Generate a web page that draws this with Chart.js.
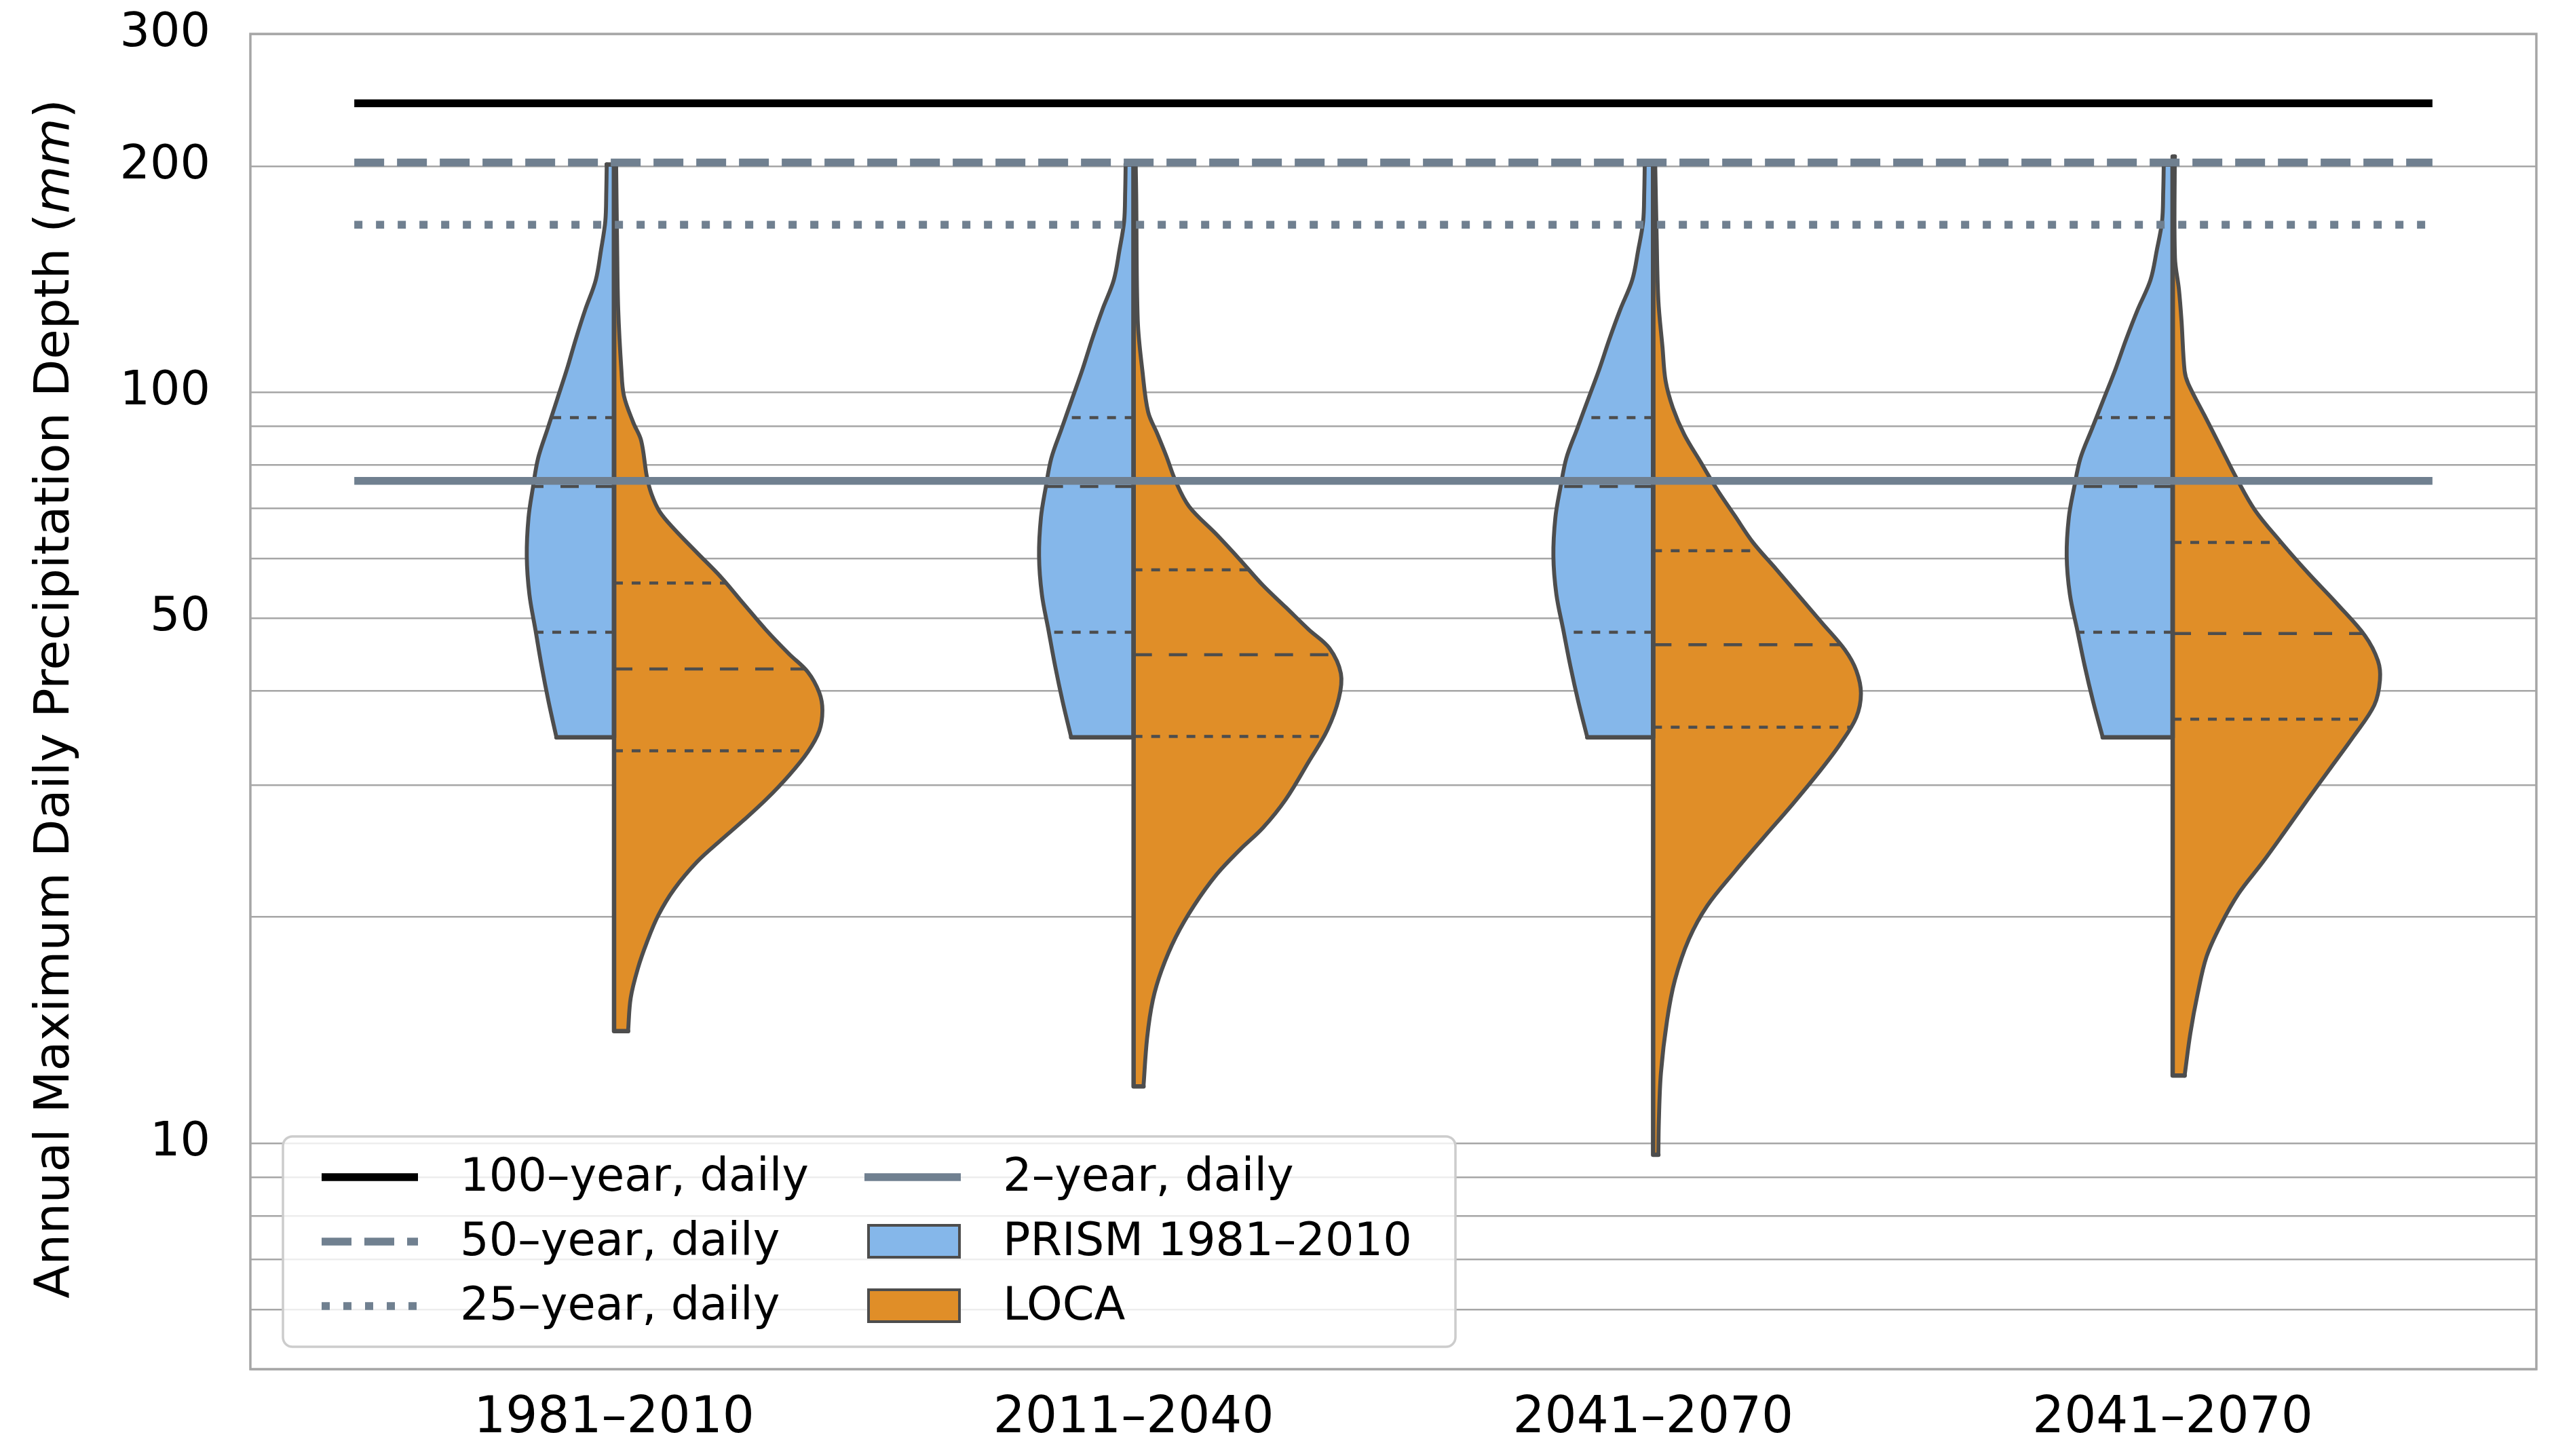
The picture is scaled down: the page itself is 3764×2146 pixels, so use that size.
<!DOCTYPE html>
<html>
<head>
<meta charset="utf-8">
<script src="https://cdn.jsdelivr.net/npm/chart.js@4/dist/chart.umd.min.js"></script>
<style>
html,body{margin:0;padding:0;background:#fff;overflow:hidden}
canvas{display:block}
</style>
</head>
<body>
<canvas id="c" width="3764" height="2146" style="width:3764px;height:2146px"></canvas>
<script>
// ---------------- DATA ----------------
const categories = ['1981–2010', '2011–2040', '2041–2070', '2041–2070'];

// return-period reference lines (mm)
const returnLabels = ['100–year, daily', '50–year, daily', '25–year, daily', '2–year, daily'];
const returnValues = [242.5, 202.3, 167.1, 76.2];

// y-axis ticks
const yGridValues = [5, 6, 7, 8, 9, 10, 20, 30, 40, 50, 60, 70, 80, 90, 100, 200, 300];
const yLabelValues = [10, 50, 100, 200, 300];

// PRISM 1981-2010 (left half): precipitation levels (mm) and relative density
const prismVals = [34.7, 38.7, 43.2, 48.2, 53.8, 60.5, 68.1, 74.6, 81.7, 89.5, 98.0, 107.3, 117.5, 128.8, 141.0, 154.5, 169.0, 185.0, 201.0];
const prismDens = [0.66, 0.75, 0.83, 0.90, 0.97, 1.00, 0.98, 0.93, 0.87, 0.76, 0.65, 0.54, 0.44, 0.33, 0.21, 0.15, 0.10, 0.089, 0.084];
const prismMaxWidth = [0.168, 0.182, 0.192, 0.204];   // half-width per period (category units)
const prismQuartiles = [47.9, 74.9, 92.5];

// LOCA (right half) per period: levels (mm) and half-widths
const loca1Vals = [14.1, 15.6, 17.1, 18.5, 20.1, 21.8, 23.7, 25.3, 26.9, 28.7, 30.9, 33.2, 35.4, 37.7, 39.8, 42.4, 44.8, 48.2, 52.3, 56.8, 61.1, 65.7, 69.3, 73.2, 77.3, 86.3, 91.1, 98.9, 107.3, 128.8, 154.5, 201.0];
const loca1W    = [0.027, 0.032, 0.046, 0.063, 0.085, 0.116, 0.160, 0.205, 0.249, 0.293, 0.337, 0.373, 0.395, 0.401, 0.395, 0.373, 0.337, 0.293, 0.249, 0.205, 0.160, 0.116, 0.088, 0.072, 0.063, 0.052, 0.037, 0.019, 0.014, 0.008, 0.006, 0.004];
const loca2Vals = [11.9, 13.8, 15.5, 17.0, 18.8, 20.7, 22.8, 24.6, 26.3, 28.7, 32.2, 35.5, 39.1, 42.2, 45.6, 48.3, 51.7, 55.3, 59.8, 64.6, 70.4, 76.1, 82.2, 87.9, 94.1, 106.7, 124.5, 183.2, 201.8];
const loca2W    = [0.019, 0.026, 0.037, 0.054, 0.081, 0.116, 0.160, 0.205, 0.249, 0.293, 0.337, 0.373, 0.395, 0.399, 0.377, 0.337, 0.293, 0.249, 0.205, 0.160, 0.107, 0.081, 0.063, 0.046, 0.028, 0.017, 0.008, 0.005, 0.004];
const loca3Vals = [9.65, 10.7, 12.4, 14.6, 16.5, 18.7, 20.7, 23.0, 25.4, 28.2, 31.3, 34.0, 36.9, 39.7, 42.6, 45.4, 49.3, 53.5, 58.1, 63.1, 68.5, 74.4, 80.8, 87.8, 95.3, 103.5, 114.8, 132.6, 163.0, 201.0];
const loca3W    = [0.010, 0.011, 0.015, 0.027, 0.042, 0.069, 0.104, 0.157, 0.210, 0.267, 0.321, 0.360, 0.391, 0.400, 0.391, 0.369, 0.325, 0.281, 0.237, 0.192, 0.157, 0.122, 0.091, 0.060, 0.038, 0.024, 0.018, 0.010, 0.0066, 0.004];
const loca4Vals = [12.3, 14.0, 15.8, 17.7, 19.5, 21.5, 23.6, 26.0, 28.7, 31.6, 34.8, 38.3, 41.4, 43.9, 47.4, 52.2, 57.5, 63.3, 69.7, 76.8, 84.6, 93.2, 102.6, 106.7, 124.5, 137.1, 151.0, 206.0];
const loca4W    = [0.023, 0.034, 0.048, 0.065, 0.092, 0.127, 0.172, 0.216, 0.260, 0.304, 0.348, 0.388, 0.399, 0.395, 0.370, 0.317, 0.260, 0.207, 0.158, 0.123, 0.092, 0.061, 0.030, 0.023, 0.017, 0.012, 0.0044, 0.004];
const locaQuartiles = [
  [33.3, 42.8, 55.7],
  [34.8, 44.7, 58.0],
  [35.8, 46.1, 61.5],
  [36.7, 47.7, 63.1]
];
const locaVals = [loca1Vals, loca2Vals, loca3Vals, loca4Vals];
const locaW = [loca1W, loca2W, loca3W, loca4W];

// ---------------- STYLE ----------------
const FONT = '"DejaVu Sans", Verdana, sans-serif';
const BLUE = '#85B7EA';
const ORANGE = '#E08E28';
const OUTLINE = '#4d4d4d';
const SLATE = '#708090';
const GRID = '#a6a6a6';
const returnStyles = [
  {color: '#000000', dash: []},
  {color: SLATE, dash: [44, 19]},
  {color: SLATE, dash: [12, 20]},
  {color: SLATE, dash: []}
];

// ---------------- BUILD DATASETS ----------------
function widthAt(vals, widths, q) {
  for (let k = 0; k < vals.length - 1; k++) {
    if (q >= vals[k] && q <= vals[k + 1]) {
      const t = (Math.log(q) - Math.log(vals[k])) / (Math.log(vals[k + 1]) - Math.log(vals[k]));
      return widths[k] + t * (widths[k + 1] - widths[k]);
    }
  }
  return 0;
}

const datasets = [];
// reference lines (on top)
returnValues.forEach((v, i) => {
  datasets.push({
    label: returnLabels[i],
    data: [{x: -0.5, y: v}, {x: 3.5, y: v}],
    borderColor: returnStyles[i].color,
    borderDash: returnStyles[i].dash,
    borderWidth: 11.5,
    borderCapStyle: 'butt',
    pointRadius: 0,
    fill: false,
    order: 0
  });
});

function addHalf(center, vals, widths, side, color, label) {
  const n = vals.length;
  const profile = vals.map((v, k) => ({x: center + side * widths[k], y: v}));
  // filled polygon (no border)
  const poly = profile.concat([{x: center, y: vals[n - 1]}, {x: center, y: vals[0]}]);
  datasets.push({
    label, data: poly, borderWidth: 0, borderColor: 'rgba(0,0,0,0)',
    backgroundColor: color, pointRadius: 0, tension: 0, fill: 'shape', order: 3
  });
  // smooth outer outline
  datasets.push({
    data: profile, borderColor: OUTLINE, borderWidth: 5.8, tension: 0.35,
    pointRadius: 0, fill: false, order: 2, borderJoinStyle: 'round', borderCapStyle: 'round'
  });
  // caps and centre line
  datasets.push({
    data: [profile[n - 1], {x: center, y: vals[n - 1]}, {x: center, y: vals[0]}, profile[0]],
    borderColor: OUTLINE, borderWidth: 6.5, tension: 0,
    pointRadius: 0, fill: false, order: 2, borderJoinStyle: 'round', borderCapStyle: 'round'
  });
}

categories.forEach((cat, i) => {
  const bw = prismDens.map(d => d * prismMaxWidth[i]);
  prismQuartiles.forEach((q, j) => {
    datasets.push({
      data: [{x: i, y: q}, {x: i - widthAt(prismVals, bw, q), y: q}],
      borderColor: OUTLINE, borderWidth: 4.5,
      borderDash: j === 1 ? [27, 25] : [13, 13],
      pointRadius: 0, fill: false, order: 1
    });
  });
  locaQuartiles[i].forEach((q, j) => {
    datasets.push({
      data: [{x: i, y: q}, {x: i + widthAt(locaVals[i], locaW[i], q), y: q}],
      borderColor: OUTLINE, borderWidth: 4.5,
      borderDash: j === 1 ? [27, 25] : [13, 13],
      pointRadius: 0, fill: false, order: 1
    });
  });
  addHalf(i, prismVals, bw, -1, BLUE, 'PRISM 1981–2010');
  addHalf(i, locaVals[i], locaW[i], 1, ORANGE, 'LOCA');
});

// ---------------- PLUGINS ----------------
const decor = {
  id: 'decor',
  beforeDraw(chart) {
    const c = chart.ctx;
    c.save(); c.fillStyle = '#ffffff'; c.fillRect(0, 0, chart.width, chart.height); c.restore();
  },
  beforeDatasetsDraw(chart) {
    const {ctx: c, chartArea: a} = chart;
    c.save();
    c.strokeStyle = '#a6a6a6'; c.lineWidth = 3.5;
    c.strokeRect(a.left, a.top, a.right - a.left, a.bottom - a.top);
    c.restore();
  },
  afterDraw(chart) {
    const {ctx: c, chartArea: a} = chart;
    // y-axis title with italic unit
    c.save();
    const midY = (a.top + a.bottom) / 2 - 4;
    c.translate(101, midY);
    c.rotate(-Math.PI / 2);
    c.fillStyle = '#000';
    c.textBaseline = 'alphabetic';
    c.textAlign = 'left';
    const parts = [
      {t: 'Annual Maximum Daily Precipitation Depth (', f: '72px ' + FONT},
      {t: 'mm', f: 'italic 72px ' + FONT},
      {t: ')', f: '72px ' + FONT}
    ];
    let total = 0;
    parts.forEach(p => { c.font = p.f; p.w = c.measureText(p.t).width; total += p.w; });
    let x = -total / 2;
    parts.forEach(p => { c.font = p.f; c.fillText(p.t, x, 0); x += p.w; });
    c.restore();

    // legend
    c.save();
    const L = a.left + 48, T = a.bottom - 343, W = 1728, H = 310;
    c.beginPath();
    c.roundRect(L, T, W, H, 14);
    c.fillStyle = 'rgba(255,255,255,0.8)';
    c.fill();
    c.strokeStyle = '#cccccc'; c.lineWidth = 3.5;
    c.stroke();
    const base = [T + 80, T + 175, T + 270];
    const col1 = L + 57, col2 = L + 857, hw = 142, tx = 204;
    c.font = '67px ' + FONT;
    c.fillStyle = '#000';
    c.textBaseline = 'alphabetic';
    const lineItem = (x0, yb, style, label) => {
      c.save();
      c.beginPath();
      c.strokeStyle = style.color; c.lineWidth = 11.5; c.lineCap = 'butt';
      c.setLineDash(style.dash);
      c.moveTo(x0, yb - 20); c.lineTo(x0 + hw, yb - 20);
      c.stroke();
      c.restore();
      c.fillText(label, x0 + tx, yb);
    };
    const patchItem = (x0, yb, color, label) => {
      c.save();
      c.fillStyle = color; c.strokeStyle = OUTLINE; c.lineWidth = 4;
      c.fillRect(x0 + 6, yb - 44, 134, 47);
      c.strokeRect(x0 + 6, yb - 44, 134, 47);
      c.restore();
      c.fillText(label, x0 + tx, yb);
    };
    lineItem(col1, base[0], returnStyles[0], returnLabels[0]);
    lineItem(col1, base[1], returnStyles[1], returnLabels[1]);
    lineItem(col1, base[2], returnStyles[2], returnLabels[2]);
    lineItem(col2, base[0], returnStyles[3], returnLabels[3]);
    patchItem(col2, base[1], BLUE, 'PRISM 1981–2010');
    patchItem(col2, base[2], ORANGE, 'LOCA');
    c.restore();
  }
};

// ---------------- CHART ----------------
new Chart(document.getElementById('c').getContext('2d'), {
  type: 'line',
  data: {datasets},
  plugins: [decor],
  options: {
    responsive: false,
    devicePixelRatio: 1,
    animation: false,
    events: [],
    layout: {padding: {top: 0, right: 26, left: 0, bottom: 0}},
    plugins: {legend: {display: false}, tooltip: {enabled: false}},
    scales: {
      x: {
        type: 'linear', min: -0.7, max: 3.7,
        grid: {display: false, drawTicks: false},
        border: {display: false},
        afterBuildTicks: s => { s.ticks = categories.map((c, i) => ({value: i})); },
        afterFit: s => { s.height = 128; s.paddingLeft = 0; s.paddingRight = 0; },
        ticks: {
          font: {family: FONT, size: 74}, color: '#000', padding: 29,
          autoSkip: false, maxRotation: 0,
          callback: (v) => categories[Math.round(v)]
        }
      },
      y: {
        type: 'logarithmic', min: 5, max: 300,
        grid: {color: GRID, lineWidth: 2.5, drawTicks: false},
        border: {display: false},
        afterBuildTicks: s => { s.ticks = yGridValues.map(v => ({value: v})); },
        afterFit: s => { s.width = 369; s.paddingTop = 50; s.paddingBottom = 0; },
        ticks: {
          font: {family: FONT, size: 70}, color: '#000', padding: 59,
          autoSkip: false,
          callback: (v) => yLabelValues.includes(v) ? String(v) : ''
        }
      }
    }
  }
});
</script>
</body>
</html>
